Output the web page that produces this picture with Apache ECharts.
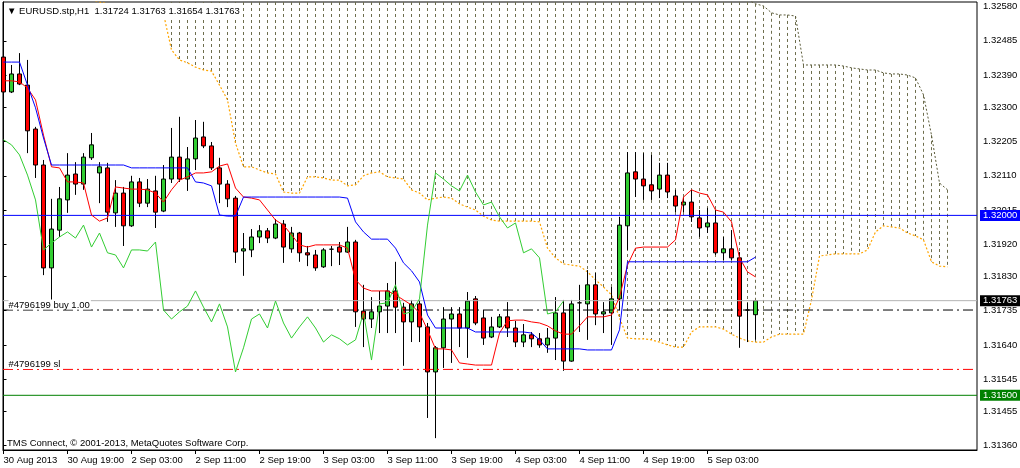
<!DOCTYPE html>
<html><head><meta charset="utf-8">
<script src="https://cdn.jsdelivr.net/npm/echarts@6/dist/echarts.min.js"></script>
<style>html,body{margin:0;padding:0;background:#fff}#c{width:1020px;height:468px}</style>
</head><body><div id="c"></div>
<script>
const FONT = "'Liberation Sans', Arial, sans-serif";
const FS = 9.5;
const symbolName = 'EURUSD.stp,H1';
const lastOHLC = ['1.31724', '1.31763', '1.31654', '1.31763'];
const copyrightText = 'TMS Connect, \u00a9 2001-2013, MetaQuotes Software Corp.';

const xTickIdx = [0, 8, 16, 24, 32, 40, 48, 56, 64, 72, 80, 88];
const xTickLabels = ['30 Aug 2013', '30 Aug 19:00', '2 Sep 03:00', '2 Sep 11:00', '2 Sep 19:00', '3 Sep 03:00',
  '3 Sep 11:00', '3 Sep 19:00', '4 Sep 03:00', '4 Sep 11:00', '4 Sep 19:00', '5 Sep 03:00'];
const yTickValues = [1.32580, 1.32485, 1.32390, 1.32300, 1.32205, 1.32110, 1.32015, 1.31920, 1.31830,
  1.31735, 1.31640, 1.31545, 1.31455, 1.31360];

const opens = [
  1.32440,1.32343,1.32393,1.32362,1.32240,1.32140,1.31854,1.31959,1.32043,1.32115,
  1.32087,1.32160,1.32118,1.32132,1.32007,1.32062,1.31971,1.32093,1.32034,1.32068,
  1.32012,1.32101,1.32162,1.32101,1.32157,1.32218,1.32193,1.32132,1.32087,1.32048,
  1.31901,1.31904,1.31940,1.31957,1.31937,1.31976,1.31907,1.31951,1.31896,1.31890,
  1.31857,1.31906,1.31912,1.31898,1.31926,1.31734,1.31712,1.31732,1.31748,1.31790,
  1.31745,1.31704,1.31754,1.31690,1.31565,1.31632,1.31712,1.31726,1.31687,1.31768,
  1.31715,1.31662,1.31690,1.31718,1.31687,1.31648,1.31668,1.31657,1.31640,1.31659,
  1.31729,1.31595,1.31757,1.31754,1.31807,1.31726,1.31729,1.31768,1.31971,1.32121,
  1.32101,1.32085,1.32073,1.32112,1.32054,1.32029,1.32037,1.31993,1.31968,1.31979,
  1.31896,1.31907,1.31882,1.31737,1.31724];
const closes = [
  1.32343,1.32393,1.32365,1.32235,1.32140,1.31854,1.31962,1.32046,1.32112,1.32087,
  1.32162,1.32196,1.32135,1.32009,1.32062,1.31971,1.32093,1.32034,1.32073,1.32009,
  1.32101,1.32162,1.32101,1.32157,1.32215,1.32193,1.32132,1.32087,1.32046,1.31898,
  1.31907,1.31940,1.31957,1.31937,1.31976,1.31912,1.31951,1.31896,1.31890,1.31854,
  1.31904,1.31906,1.31898,1.31926,1.31732,1.31712,1.31732,1.31748,1.31790,1.31745,
  1.31704,1.31754,1.31690,1.31565,1.31632,1.31712,1.31726,1.31687,1.31762,1.31701,
  1.31659,1.31690,1.31718,1.31687,1.31648,1.31668,1.31657,1.31640,1.31659,1.31729,
  1.31595,1.31754,1.31757,1.31807,1.31726,1.31732,1.31768,1.31973,1.32118,1.32101,
  1.32082,1.32068,1.32112,1.32065,1.32026,1.32037,1.31996,1.31965,1.31979,1.31896,
  1.31907,1.31882,1.31720,1.31737,1.31763];
const lows = [
  1.32307,1.32340,1.32362,1.32173,1.32104,1.31834,1.31740,1.31940,1.32007,1.32057,
  1.32071,1.32154,1.32034,1.31982,1.31968,1.31915,1.31968,1.32023,1.32023,1.31965,
  1.32009,1.32090,1.32093,1.32068,1.32126,1.32187,1.32126,1.32034,1.32023,1.31868,
  1.31832,1.31884,1.31923,1.31923,1.31934,1.31868,1.31896,1.31871,1.31859,1.31846,
  1.31854,1.31859,1.31862,1.31896,1.31690,1.31634,1.31687,1.31673,1.31673,1.31673,
  1.31582,1.31648,1.31648,1.31437,1.31381,1.31576,1.31590,1.31634,1.31604,1.31695,
  1.31640,1.31659,1.31687,1.31662,1.31634,1.31634,1.31634,1.31632,1.31618,1.31598,
  1.31568,1.31593,1.31676,1.31654,1.31695,1.31673,1.31640,1.31737,1.31904,1.32051,
  1.32043,1.32043,1.32048,1.32048,1.32009,1.32009,1.31982,1.31940,1.31951,1.31890,
  1.31876,1.31876,1.31632,1.31648,1.31654];
const highs = [
  1.32529,1.32418,1.32451,1.32432,1.32246,1.32154,1.32046,1.32079,1.32173,1.32148,
  1.32173,1.32229,1.32148,1.32146,1.32098,1.32079,1.32110,1.32104,1.32101,1.32110,
  1.32140,1.32243,1.32274,1.32190,1.32265,1.32260,1.32204,1.32160,1.32098,1.32054,
  1.31951,1.31962,1.31973,1.31965,1.31990,1.31987,1.31968,1.31954,1.31915,1.31904,
  1.31909,1.31915,1.31926,1.31968,1.31932,1.31807,1.31773,1.31790,1.31812,1.31871,
  1.31757,1.31765,1.31765,1.31701,1.31637,1.31745,1.31745,1.31745,1.31787,1.31776,
  1.31737,1.31718,1.31726,1.31759,1.31707,1.31698,1.31676,1.31673,1.31687,1.31773,
  1.31765,1.31765,1.31807,1.31848,1.31840,1.31759,1.31801,1.31996,1.32176,1.32176,
  1.32173,1.32168,1.32146,1.32146,1.32071,1.32051,1.32071,1.32015,1.32021,1.32015,
  1.31940,1.31959,1.31898,1.31757,1.31763];

const tenkan = [
  1.32374,1.32374,1.32371,1.32354,1.32321,1.32223,1.32135,1.32132,1.32093,1.32093,
  1.32090,1.32001,1.31984,1.31993,1.32079,1.32076,1.32073,1.32073,1.32071,1.32062,
  1.32037,1.32071,1.32098,1.32107,1.32118,1.32118,1.32121,1.32137,1.32143,1.32076,
  1.32051,1.32048,1.32043,1.32015,1.31987,1.31973,1.31946,1.31918,1.31912,1.31918,
  1.31918,1.31918,1.31918,1.31909,1.31821,1.31798,1.31790,1.31790,1.31790,1.31779,
  1.31765,1.31751,1.31729,1.31682,1.31629,1.31629,1.31626,1.31590,1.31587,1.31584,
  1.31584,1.31584,1.31673,1.31707,1.31709,1.31709,1.31704,1.31701,1.31693,1.31679,
  1.31670,1.31670,1.31693,1.31718,1.31718,1.31718,1.31723,1.31773,1.31862,1.31909,
  1.31912,1.31912,1.31912,1.31912,1.31932,1.32051,1.32071,1.32062,1.32057,1.32015,
  1.32009,1.31982,1.31882,1.31843,1.31829];
const kijun = [
  1.32426,1.32426,1.32426,1.32362,1.32299,1.32215,1.32140,1.32140,1.32140,1.32140,
  1.32140,1.32140,1.32140,1.32140,1.32140,1.32140,1.32132,1.32132,1.32132,1.32132,
  1.32132,1.32132,1.32132,1.32132,1.32093,1.32090,1.32082,1.32001,1.31998,1.31998,
  1.32051,1.32051,1.32051,1.32051,1.32051,1.32051,1.32051,1.32051,1.32051,1.32051,
  1.32051,1.32051,1.32051,1.32048,1.31982,1.31954,1.31934,1.31934,1.31934,1.31909,
  1.31868,1.31846,1.31815,1.31723,1.31687,1.31687,1.31687,1.31687,1.31687,1.31676,
  1.31676,1.31676,1.31676,1.31676,1.31676,1.31676,1.31673,1.31654,1.31629,1.31629,
  1.31629,1.31629,1.31629,1.31626,1.31626,1.31626,1.31626,1.31682,1.31871,1.31871,
  1.31871,1.31871,1.31871,1.31871,1.31871,1.31871,1.31871,1.31871,1.31871,1.31871,
  1.31871,1.31871,1.31871,1.31871,1.31884];
const chikou = [
  1.32210,1.32196,1.32168,1.32112,1.32043,1.31904,1.31923,1.31940,1.31954,1.31937,
  1.31973,1.31912,1.31951,1.31896,1.31890,1.31854,1.31904,1.31904,1.31901,1.31926,
  1.31737,1.31712,1.31732,1.31748,1.31790,1.31745,1.31704,1.31754,1.31690,1.31565,
  1.31632,1.31712,1.31726,1.31687,1.31762,1.31701,1.31659,1.31690,1.31718,1.31687,
  1.31648,1.31668,1.31657,1.31640,1.31654,1.31729,1.31598,1.31754,1.31757,1.31807,
  1.31726,1.31732,1.31768,1.31973,1.32118,1.32101,1.32082,1.32068,1.32112,1.32065,
  1.32029,1.32037,1.31996,1.31965,1.31979,1.31896,1.31907,1.31882,1.31726,1.31732,
  1.31762];
const senkouStart = 11;
const senkouA = [
  1.32599,1.32593,1.32588,1.32582,1.32576,1.32574,1.32571,1.32568,1.32565,1.32560,
  1.32460,1.32432,1.32424,1.32412,1.32404,1.32401,1.32362,1.32321,1.32201,1.32135,
  1.32135,1.32126,1.32118,1.32115,1.32065,1.32062,1.32062,1.32107,1.32107,1.32104,
  1.32098,1.32098,1.32082,1.32085,1.32110,1.32118,1.32121,1.32107,1.32104,1.32101,
  1.32071,1.32062,1.32043,1.32048,1.32051,1.32048,1.32032,1.32023,1.32015,1.31998,
  1.31987,1.31984,1.31984,1.31984,1.31984,1.31984,1.31982,1.31909,1.31882,1.31865,
  1.31862,1.31859,1.31843,1.31821,1.31801,1.31779,1.31715,1.31659,1.31657,1.31657,
  1.31654,1.31648,1.31640,1.31634,1.31634,1.31676,1.31690,1.31690,1.31690,1.31684,
  1.31670,1.31659,1.31651,1.31648,1.31648,1.31662,1.31670,1.31670,1.31670,1.31670,
  1.31765,1.31887,1.31890,1.31893,1.31893,1.31893,1.31893,1.31904,1.31954,1.31971,
  1.31968,1.31965,1.31951,1.31943,1.31932,1.31871,1.31859,1.31857];
const senkouB = [
  null,null,null,null,null,null,null,null,null,null,
  1.32650,1.32650,1.32650,1.32650,1.32650,1.32650,1.32650,1.32650,1.32650,1.32650,
  1.32650,1.32650,1.32650,1.32650,1.32650,1.32650,1.32650,1.32650,1.32650,1.32650,
  1.32650,1.32650,1.32650,1.32650,1.32650,1.32650,1.32650,1.32650,1.32650,1.32650,
  1.32650,1.32650,1.32650,1.32650,1.32650,1.32650,1.32650,1.32650,1.32650,1.32650,
  1.32650,1.32650,1.32650,1.32650,1.32650,1.32650,1.32650,1.32650,1.32650,1.32650,
  1.32650,1.32650,1.32650,1.32650,1.32650,1.32650,1.32650,1.32650,1.32650,1.32650,
  1.32600,1.32600,1.32600,1.32600,1.32600,1.32600,1.32600,1.32600,1.32600,1.32600,
  1.32600,1.32600,1.32600,1.32588,1.32582,1.32563,1.32557,1.32557,1.32554,1.32418,
  1.32418,1.32418,1.32418,1.32418,1.32415,1.32410,1.32407,1.32404,1.32404,1.32396,
  1.32393,1.32393,1.32390,1.32382,1.32335,1.32223,1.32090,1.32071];

const levelBlue = 1.32000;
const levelGreen = 1.31500;
const bidPrice = 1.31763;
const orderOpen = 1.31737;
const orderSL = 1.31572;
const orderText = '#4796199 buy 1.00';
const slText = '#4796199 sl';

const X_MIN = -0.0625, X_MAX = 121.6875;
const Y_MIN = 1.31348, Y_MAX = 1.32593;

const candleData = opens.map((o, i) => [i, o, closes[i], lows[i], highs[i]]);
const hatchData = senkouA.map((a, k) => [k + senkouStart, a, senkouB[k]]).filter(r => r[2] != null);

function levelSeries(value, color, dash, badgeBg, tag, z) {
  const s = {
    type: 'line', z: z, silent: true, clip: false,
    symbol: 'none', showSymbol: false,
    lineStyle: {color: color, width: 1, type: dash},
    data: [[X_MIN, value], [X_MAX, value]]
  };
  if (tag) {
    s.markPoint = {silent: true, animation: false, symbol: 'rect', symbolSize: 1,
      itemStyle: {color: 'rgba(0,0,0,0)'},
      data: [{coord: [X_MIN, value],
        label: {show: true, position: [6, -10], align: 'left', verticalAlign: 'top',
          formatter: tag, color: '#000', backgroundColor: '#fff', padding: [1, 1, 0, 0],
          fontSize: FS, fontFamily: FONT, lineHeight: 9}}]};
  }
  if (badgeBg) {
    s.endLabel = {show: true, distance: 3, formatter: value.toFixed(5), backgroundColor: badgeBg, color: '#fff',
      padding: [1, 3, 0, 3], fontSize: FS, fontFamily: FONT, lineHeight: 10};
  }
  return s;
}

const chart = echarts.init(document.getElementById('c'), null, {renderer: 'canvas'});
chart.setOption({
  animation: false,
  backgroundColor: '#fff',
  textStyle: {fontFamily: FONT},
  title: [
    {text: '\u25BC ' + symbolName + '  ' + lastOHLC.join(' '), left: 4, top: 3, padding: [2, 3, 2, 3],
     backgroundColor: '#fff', textStyle: {fontSize: FS, fontWeight: 'normal', color: '#000', fontFamily: FONT, lineHeight: 12}},
    {text: copyrightText, left: 7, top: 437, padding: 0,
     textStyle: {fontSize: FS, fontWeight: 'normal', color: '#000', fontFamily: FONT, lineHeight: 12}}
  ],
  grid: {left: 3, right: 43, top: 2, bottom: 18, show: true, borderColor: '#000', borderWidth: 1,
    backgroundColor: '#fff', containLabel: false, outerBoundsMode: 'none'},
  xAxis: {
    type: 'value', min: X_MIN, max: X_MAX,
    splitLine: {show: false},
    axisLine: {show: true, lineStyle: {color: '#000', width: 1}},
    axisTick: {show: true, customValues: xTickIdx, length: 4, lineStyle: {color: '#000'}},
    axisLabel: {show: true, customValues: xTickIdx, align: 'left', margin: 5, fontSize: FS, color: '#000',
      fontFamily: FONT, formatter: (v) => { const k = xTickIdx.indexOf(Math.round(v)); return k >= 0 ? xTickLabels[k] : ''; }}
  },
  yAxis: {
    type: 'value', position: 'right', min: Y_MIN, max: Y_MAX,
    splitLine: {show: false},
    axisLine: {show: true, lineStyle: {color: '#000', width: 1}},
    axisTick: {show: true, customValues: yTickValues, length: 3, lineStyle: {color: '#000'}},
    axisLabel: {show: true, customValues: yTickValues, margin: 6, fontSize: FS, color: '#000', fontFamily: FONT,
      formatter: (v) => v.toFixed(5)}
  },
  series: [
    {
      type: 'custom', name: 'kumo', z: 1, silent: true, clip: true,
      data: hatchData, encode: {x: 0, y: [1, 2]},
      renderItem: (params, api) => {
        const i = api.value(0);
        const pA = api.coord([i, api.value(1)]);
        const pB = api.coord([i, api.value(2)]);
        const cs = params.coordSys;
        const y1 = Math.max(cs.y, Math.min(pA[1], pB[1]));
        const y2 = Math.min(cs.y + cs.height, Math.max(pA[1], pB[1]));
        if (y2 <= y1) return null;
        const x = Math.round(pA[0] - 0.5) + 0.5;
        return {type: 'line', shape: {x1: x, y1: y1, x2: x, y2: y2},
          style: {stroke: '#6E6E4E', lineWidth: 1, lineDash: [3, 3]}};
      }
    },
    {type: 'line', name: 'senkouA', z: 2, silent: true, symbol: 'none', showSymbol: false,
     data: senkouA.map((v, k) => [k + senkouStart, v]),
     lineStyle: {color: '#FFA500', width: 1.2, type: [2, 2]}},
    {type: 'line', name: 'senkouB', z: 2, silent: true, symbol: 'none', showSymbol: false,
     data: senkouB.map((v, k) => [k + senkouStart, v]),
     lineStyle: {color: '#5A5A38', width: 1, type: [2, 2]}},
    {type: 'candlestick', name: 'EURUSD', z: 3, silent: true, barWidth: 5,
     dimensions: ['x', 'open', 'close', 'low', 'high'],
     encode: {x: 'x', y: ['open', 'close', 'low', 'high']},
     data: candleData,
     itemStyle: {color: '#32CD32', color0: '#FF0000', borderColor: '#000', borderColor0: '#000', borderWidth: 1}},
    levelSeries(levelBlue, '#0000FF', 'solid', '#0000FF', null, 4),
    levelSeries(levelGreen, '#008000', 'solid', '#008000', null, 4),
    levelSeries(bidPrice, '#B4B4B4', 'solid', '#000000', null, 4),
    levelSeries(orderOpen, '#000000', [10, 4, 2, 4], null, orderText, 4),
    levelSeries(orderSL, '#FF0000', [10, 4, 2, 4], null, slText, 4),
    {type: 'line', name: 'tenkan', z: 5, silent: true, symbol: 'none', showSymbol: false,
     data: tenkan.map((v, i) => [i, v]), lineStyle: {color: '#FF0000', width: 1}},
    {type: 'line', name: 'kijun', z: 5, silent: true, symbol: 'none', showSymbol: false,
     data: kijun.map((v, i) => [i, v]), lineStyle: {color: '#0000FF', width: 1}},
    {type: 'line', name: 'chikou', z: 5, silent: true, symbol: 'none', showSymbol: false,
     data: chikou.map((v, i) => [i, v]), lineStyle: {color: '#32CD32', width: 1}}
  ]
});
</script></body></html>
